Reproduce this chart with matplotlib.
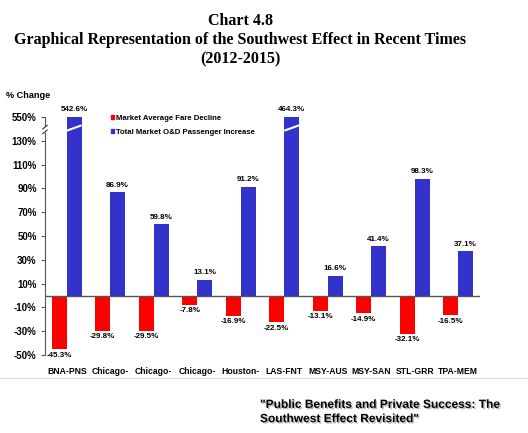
import matplotlib
matplotlib.use("Agg")
import matplotlib.pyplot as plt
import matplotlib.patheffects as pe
from matplotlib.patches import Patch
import numpy as np

categories = ["BNA-PNS", "Chicago-", "Chicago-", "Chicago-", "Houston-",
              "LAS-FNT", "MSY-AUS", "MSY-SAN", "STL-GRR", "TPA-MEM"]
fare_decline = [-45.3, -29.8, -29.5, -7.8, -16.9, -22.5, -13.1, -14.9, -32.1, -16.5]
passenger_increase = [542.6, 86.9, 59.8, 13.1, 91.2, 464.3, 16.6, 41.4, 98.3, 37.1]
ytick_values = [-50, -30, -10, 10, 30, 50, 70, 90, 110, 130, 150]
ytick_labels = ["-50%", "-30%", "-10%", "10%", "30%", "50%", "70%", "90%", "110%", "130%", "550%"]
axis_top = 150  # values above this are drawn broken at the top

RED = "#ff0000"
BLUE = "#3333cc"
plt.rcParams["font.family"] = ["Liberation Sans", "DejaVu Sans"]

fig = plt.figure(figsize=(5.28, 4.33), dpi=100)
W, H = 528, 433
ax = fig.add_axes([45 / W, (H - 355) / H, (480 - 45) / W, (355 - 117) / H])

x = np.arange(len(categories))
bw = 0.34
shown = [min(v, axis_top) for v in passenger_increase]
ax.bar(x - bw / 2, fare_decline, bw, color=RED, zorder=2)
ax.bar(x + bw / 2, shown, bw, color=BLUE, zorder=2)

ax.set_xlim(-0.5, len(categories) - 0.5)
ax.set_ylim(-50, 150)
ax.axhline(0, color="#555555", lw=1.0, zorder=3)

for i, v in enumerate(fare_decline):
    ax.text(x[i] - bw / 2, v - 2, f"{v:.1f}%", ha="center", va="top",
            fontsize=5.8, fontweight="bold")
for i, v in enumerate(passenger_increase):
    ax.text(x[i] + bw / 2, min(v, axis_top) + 3, f"{v:.1f}%", ha="center",
            va="bottom", fontsize=5.8, fontweight="bold", clip_on=False)
    if v > axis_top:
        ax.plot([x[i], x[i] + bw], [138.5, 143],
                color="white", lw=1.5, zorder=4, solid_capstyle="butt")

ax.set_yticks(ytick_values)
ax.set_yticklabels(ytick_labels, fontsize=7, fontweight="bold")
ax.set_xticks(x)
ax.set_xticklabels(categories, fontsize=6.2, fontweight="bold")
ax.tick_params(axis="x", length=0, pad=9)
ax.tick_params(axis="y", length=3, width=0.8, color="#555555", direction="out", pad=3)
for s in ["top", "right", "bottom"]:
    ax.spines[s].set_visible(False)
ax.spines["left"].set_color("#555555")
ax.spines["left"].set_linewidth(0.8)

# axis break marks
ax.fill_between([-0.53, -0.47], [137.5, 138.5], [141.0, 142.0], color="white",
                clip_on=False, zorder=4)
for yb in [141.5, 137.5]:
    ax.plot([-0.55, -0.45], [yb - 1.5, yb + 1.5], color="#333333", lw=0.8,
            clip_on=False, zorder=5)

handles = [Patch(color=RED), Patch(color=BLUE)]
leg = ax.legend(handles, ["Market Average Fare Decline", "Total Market O&D Passenger Increase"],
                loc="upper left", bbox_to_anchor=(0.135, 1.038), frameon=False,
                handlelength=0.45, handleheight=0.45, handletextpad=0.2,
                labelspacing=0.85, prop={"size": 5.6, "weight": "bold"})

fig.text(6 / W, 1 - 96 / H, "% Change", fontsize=6.6, fontweight="bold", va="center")

fig.text(240 / W, 1 - 21 / H, "Chart 4.8", ha="center", va="center",
         fontsize=11.5, fontweight="bold", family="Liberation Serif")
fig.text(240 / W, 1 - 40 / H, "Graphical Representation of the Southwest Effect in Recent Times",
         ha="center", va="center", fontsize=11.5, fontweight="bold", family="Liberation Serif")
fig.text(240 / W, 1 - 59 / H, "(2012-2015)", ha="center", va="center",
         fontsize=11.5, fontweight="bold", family="Liberation Serif")

fig.add_artist(plt.Line2D([0, 1], [1 - 378 / H] * 2, color="#dddddd", lw=0.8))

fig.text(260 / W, 1 - 412 / H, "\"Public Benefits and Private Success: The\nSouthwest Effect Revisited\"",
         ha="left", va="center", fontsize=8.6, fontweight="bold", linespacing=1.25,
         path_effects=[pe.withSimplePatchShadow(offset=(1, -1), shadow_rgbFace="#888888", alpha=0.6)])

fig.savefig("out.png", dpi=100)
